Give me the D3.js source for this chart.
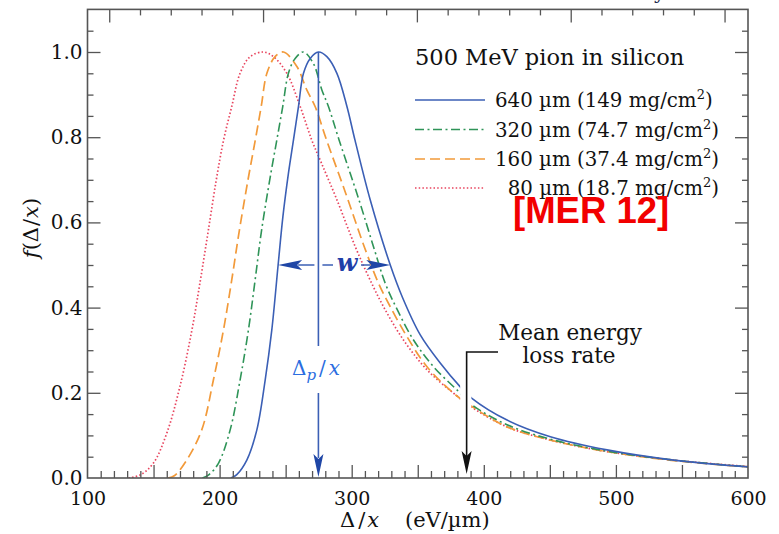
<!DOCTYPE html>
<html>
<head>
<meta charset="utf-8">
<script src="https://cdn.jsdelivr.net/npm/d3@7"></script>
<style>
  body { margin: 0; background: #fff; }
  svg { display: block; }
  text { font-family: "DejaVu Serif", serif; }
</style>
</head>
<body>
<svg id="chart" width="779" height="534"></svg>
<script>
// Straggling functions f(Δ/x) in silicon for 500 MeV pions,
// normalised to unity at the most probable energy loss. [Δ/x (eV/µm), f]
const curve640 = [[208.5,0],[213,0.008],[220.6,0.042],[228.2,0.113],[234.5,0.23],[239.5,0.347],[244.3,0.5],[247.9,0.613],[252.1,0.715],[255.9,0.793],[259.7,0.872],[263.5,0.95],[268.6,0.985],[274.8,1.0],[281.2,0.989],[288.8,0.95],[296.4,0.872],[302.5,0.793],[314,0.653],[329.2,0.5],[338.3,0.425],[351.9,0.336],[367,0.27],[382.2,0.214],[391,0.187],[417.6,0.136],[450.4,0.097],[493.3,0.066],[543.8,0.042],[600,0.026]];
const curve320 = [[187,0],[192,0.008],[199.1,0.0345],[208,0.113],[215.5,0.23],[221.8,0.347],[226.9,0.465],[231.8,0.582],[238.8,0.715],[243.3,0.793],[247.8,0.872],[252.1,0.95],[257.2,0.985],[263.5,1.0],[271,0.973],[277.4,0.911],[282.4,0.872],[290.5,0.793],[305.5,0.653],[316.5,0.543],[325.4,0.457],[334.2,0.397],[346.8,0.324],[362,0.261],[380.9,0.203],[391,0.172],[417.6,0.125],[450.4,0.091],[493.3,0.063],[543.8,0.042],[600,0.026]];
const curve160 = [[161,0],[166,0.006],[175.1,0.042],[186.5,0.113],[195.3,0.23],[202.9,0.347],[209.2,0.465],[215,0.582],[221.5,0.7],[227,0.793],[231.5,0.872],[235.8,0.95],[242,0.989],[248.3,1.0],[258.5,0.966],[266,0.911],[272.3,0.872],[281,0.793],[295.5,0.668],[309.5,0.543],[320.3,0.457],[329.2,0.402],[341.8,0.332],[357,0.261],[377.1,0.199],[391,0.168],[417.6,0.12],[450.4,0.089],[493.3,0.062],[543.8,0.041],[600,0.026]];
const curve80 = [[131,0],[139.8,0.007],[149.8,0.0345],[160,0.105],[170,0.215],[178.9,0.345],[185.5,0.465],[191.5,0.582],[197.5,0.7],[203,0.793],[209.2,0.872],[215.5,0.95],[223.1,0.989],[233.2,1.0],[240.8,0.989],[250.9,0.95],[261,0.872],[269.8,0.793],[277,0.74],[288.8,0.653],[302.7,0.543],[312.7,0.473],[324.1,0.402],[339.2,0.324],[357,0.254],[377.1,0.199],[391,0.166],[417.6,0.12],[450.4,0.089],[493.3,0.062],[543.8,0.042],[600,0.027]];

const thicknessUm = [640, 320, 160, 80];
const arealDensity = ["149", "74.7", "37.4", "18.7"];

const xTickLabels = [100, 200, 300, 400, 500, 600];
const yTickLabels = [0, 0.2, 0.4, 0.6, 0.8, 1.0];

const mostProbable640 = 274.8;          // Δp/x for the 640 µm curve
const halfMax640 = [244.3, 329.2];      // FWHM bounds, w
const meanLossRate = 387;               // mean energy loss rate, eV/µm
const siliconDensity = 2.329;           // g/cm³, for the MeV g⁻¹ cm² scale

// ---- styles ----
const series = [
  { data: curve640, color: "#3b5fb5", dash: null,            width: 1.6 },
  { data: curve320, color: "#2f9458", dash: "9,3.5,2,3.5",   width: 1.6 },
  { data: curve160, color: "#f29a3a", dash: "10,5",          width: 1.7 },
  { data: curve80,  color: "#e8445e", dash: "1.5,2.2",       width: 1.7 }
];
const axisColor = "#555";

const svg = d3.select("#chart");
const pL = 87.5, pR = 748, pT = 9.4, pB = 478;

const x = d3.scaleLinear().domain([100, 600]).range([pL, pR]);
const y = d3.scaleLinear().domain([0, 1.1]).range([pB, pT]);
// same axis expressed in MeV g^-1 cm^2 (1 MeV cm²/g = 232.9 eV/µm)
const xTop = d3.scaleLinear().domain([100 / (100 * siliconDensity), 600 / (100 * siliconDensity)]).range([pL, pR]);

// ---- curves (interrupted where the mean-loss arrow passes) ----
const gapLo = x(meanLossRate - 4.9), gapHi = x(meanLossRate + 3.6);
const clip = svg.append("defs").append("clipPath").attr("id", "curveClip");
clip.append("rect").attr("x", pL).attr("y", pT).attr("width", gapLo - pL).attr("height", pB - pT);
clip.append("rect").attr("x", gapHi).attr("y", pT).attr("width", pR - gapHi).attr("height", pB - pT);

const line = d3.line().x(d => x(d[0])).y(d => y(d[1])).curve(d3.curveCatmullRom.alpha(0.5));
const curves = svg.append("g").attr("clip-path", "url(#curveClip)");
series.slice().reverse().forEach(s => {
  curves.append("path")
    .attr("d", line(s.data))
    .attr("fill", "none")
    .attr("stroke", s.color)
    .attr("stroke-width", s.width)
    .attr("stroke-dasharray", s.dash);
});

// ---- axes: inward ticks on all four sides ----
function tickAxis(axisFn, scale, values, size, tx, ty) {
  const g = svg.append("g").attr("transform", `translate(${tx},${ty})`)
    .call(axisFn(scale).tickValues(values).tickSize(size).tickFormat(""));
  g.select(".domain").remove();
  g.selectAll("line").attr("stroke", axisColor).attr("stroke-width", 1.3);
  g.selectAll("text").remove();
}
const xMinor = d3.range(110, 600, 10).filter(v => v % 50 !== 0);
const xMajor = d3.range(150, 600, 50);
tickAxis(d3.axisBottom, x, xMinor, -7, 0, pB);
tickAxis(d3.axisBottom, x, xMajor, -13, 0, pB);

const yMinor = d3.range(1, 22).map(i => i * 0.05).filter(v => Math.abs(v / 0.2 - Math.round(v / 0.2)) > 1e-6);
const yMajor = [0.2, 0.4, 0.6, 0.8, 1.0];
tickAxis(d3.axisLeft, y, yMinor, -6, pL, 0);
tickAxis(d3.axisLeft, y, yMajor, -13, pL, 0);
tickAxis(d3.axisRight, y, yMinor, -6, pR, 0);
tickAxis(d3.axisRight, y, yMajor, -13, pR, 0);

const topMinor = d3.range(5, 26).map(i => i / 10).filter(v => Math.round(v * 10) % 5 !== 0);
const topMajor = [0.5, 1.0, 1.5, 2.0, 2.5];
tickAxis(d3.axisTop, xTop, topMinor, -6, 0, pT);
tickAxis(d3.axisTop, xTop, topMajor, -13, 0, pT);

// frame
svg.append("rect")
  .attr("x", pL).attr("y", pT).attr("width", pR - pL).attr("height", pB - pT)
  .attr("fill", "none").attr("stroke", axisColor).attr("stroke-width", 1.6);

// tick labels
const xl = svg.append("g").attr("transform", `translate(0,${pB})`)
  .call(d3.axisBottom(x).tickValues(xTickLabels).tickSize(0).tickPadding(13.5).tickFormat(d3.format("d")));
xl.select(".domain").remove();
xl.selectAll("text").style("font-family", "DejaVu Serif").attr("font-size", 19).attr("fill", "#111");

const yl = svg.append("g").attr("transform", `translate(${pL},0)`)
  .call(d3.axisLeft(y).tickValues(yTickLabels).tickSize(0).tickPadding(5).tickFormat(d3.format(".1f")));
yl.select(".domain").remove();
yl.selectAll("text").style("font-family", "DejaVu Serif").attr("font-size", 20).attr("fill", "#111");

// axis titles
const xt = svg.append("text").attr("x", 340).attr("y", 527).attr("font-size", 21).attr("fill", "#111");
xt.append("tspan").text("Δ");
xt.append("tspan").attr("dx", 3).text("/");
xt.append("tspan").attr("dx", 2).attr("font-style", "italic").text("x");
xt.append("tspan").attr("x", 405).text("(eV/µm)");

const yt = svg.append("text").attr("transform", "translate(38,228) rotate(-90)")
  .attr("text-anchor", "middle").attr("font-size", 21).attr("fill", "#111");
yt.append("tspan").attr("font-style", "italic").text("f");
yt.append("tspan").text("(Δ");
yt.append("tspan").attr("dx", 1).text("/");
yt.append("tspan").attr("dx", 1).attr("font-style", "italic").text("x");
yt.append("tspan").text(")");

// partly visible glyph at the top edge
svg.append("text").attr("x", 654).attr("y", -1).attr("font-size", 20).attr("fill", "#1c2a50").text("y");

// ---- legend ----
svg.append("text").attr("x", 415).attr("y", 65).attr("font-size", 22.5).attr("fill", "#111")
  .text("500 MeV pion in silicon");
const rowY = [100, 129.5, 159, 188];
series.forEach((s, i) => {
  svg.append("line")
    .attr("x1", 415).attr("x2", 485).attr("y1", rowY[i]).attr("y2", rowY[i])
    .attr("stroke", s.color).attr("stroke-width", s.width)
    .attr("stroke-dasharray", s.dash);
  const t = svg.append("text").attr("x", 495).attr("y", rowY[i] + 7)
    .attr("font-size", 19.8).attr("fill", "#111");
  t.append("tspan").attr("dx", thicknessUm[i] < 100 ? "0.64em" : 0)
    .text(`${thicknessUm[i]} µm (${arealDensity[i]} mg/cm`);
  t.append("tspan").attr("font-size", 13).attr("dy", -8).text("2");
  t.append("tspan").attr("dy", 8).text(")");
});

svg.append("text").attr("x", 513).attr("y", 223)
  .style("font-family", "'Liberation Sans', Arial, sans-serif").attr("font-weight", "bold")
  .attr("font-size", 36.5).attr("fill", "#f20000").text("[MER 12]");

// ---- Δp/x marker with arrow down to the axis ----
const arrowDark = "#1f46a6";
const xp = x(mostProbable640);
const dp = svg.append("g").attr("stroke", "#3b5fb5").attr("stroke-width", 1.6);
dp.append("line").attr("x1", xp).attr("x2", xp).attr("y1", y(1.0)).attr("y2", 346);
dp.append("line").attr("x1", xp).attr("x2", xp).attr("y1", 393).attr("y2", 458);
svg.append("path").attr("fill", arrowDark)
  .attr("d", `M${xp},${pB - 1} L${xp - 5},${pB - 24} L${xp},${pB - 19} L${xp + 5},${pB - 24} Z`);

const dl = svg.append("text").attr("x", 292).attr("y", 375).attr("font-size", 20).attr("fill", "#2b6de0");
dl.append("tspan").text("Δ");
dl.append("tspan").attr("font-style", "italic").attr("font-size", 15).attr("dy", 5).text("p");
dl.append("tspan").attr("dy", -5).attr("dx", 3).text("/");
dl.append("tspan").attr("dx", 3).attr("font-style", "italic").text("x");

// ---- FWHM w ----
const yh = y(0.5), xa = x(halfMax640[0]), xb = x(halfMax640[1]);
const wg = svg.append("g").attr("stroke", "#3b5fb5").attr("stroke-width", 1.5);
wg.append("line").attr("x1", xa + 20).attr("x2", xp - 4).attr("y1", yh).attr("y2", yh);
wg.append("line").attr("x1", xp + 4).attr("x2", 333).attr("y1", yh).attr("y2", yh);
wg.append("line").attr("x1", 361).attr("x2", xb - 20).attr("y1", yh).attr("y2", yh);
svg.append("path").attr("fill", arrowDark)
  .attr("d", `M${xa},${yh} L${xa + 24},${yh - 5} L${xa + 19},${yh} L${xa + 24},${yh + 5} Z`);
svg.append("path").attr("fill", arrowDark)
  .attr("d", `M${xb},${yh} L${xb - 24},${yh - 5} L${xb - 19},${yh} L${xb - 24},${yh + 5} Z`);
svg.append("text").attr("x", 347).attr("y", yh + 6).attr("text-anchor", "middle")
  .attr("font-size", 24).attr("font-style", "italic").attr("font-weight", "bold")
  .attr("fill", "#1f3fa8").text("w");

// ---- mean energy loss rate ----
const xm = x(meanLossRate);
const mg = svg.append("g").attr("stroke", "#111").attr("stroke-width", 1.6).attr("fill", "none");
mg.append("path").attr("d", `M498,352 H${xm} V456`);
svg.append("path").attr("fill", "#111")
  .attr("d", `M${xm},${pB - 4} L${xm - 5},${pB - 27} L${xm},${pB - 22} L${xm + 5},${pB - 27} Z`);
svg.append("text").attr("x", 570).attr("y", 340).attr("text-anchor", "middle")
  .attr("font-size", 21.5).attr("fill", "#111").text("Mean energy");
svg.append("text").attr("x", 569).attr("y", 363).attr("text-anchor", "middle")
  .attr("font-size", 21.5).attr("fill", "#111").text("loss rate");
</script>
</body>
</html>
